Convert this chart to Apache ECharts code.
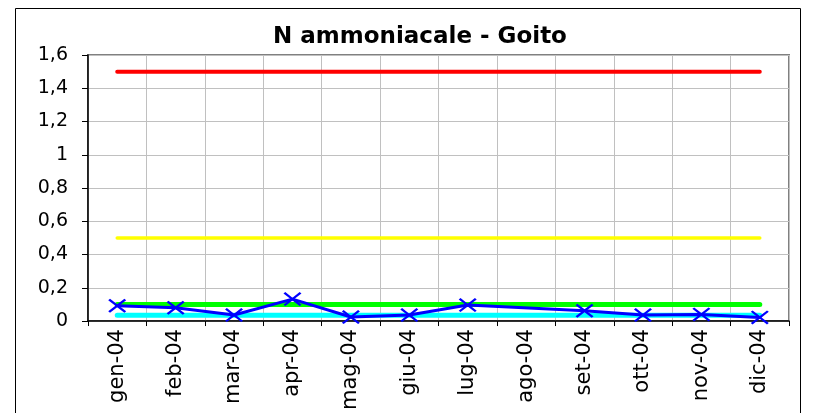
<!DOCTYPE html>
<html>
<head>
<meta charset="utf-8">
<script src="https://cdn.jsdelivr.net/npm/echarts@6/dist/echarts.min.js"></script>
<style>
	html, body { margin: 0; padding: 0; background: #fff; }
	#chart { width: 813px; height: 413px; }
</style>
</head>
<body>
<div id="chart"></div>
<script>
	const months = ['gen-04', 'feb-04', 'mar-04', 'apr-04', 'mag-04', 'giu-04', 'lug-04', 'ago-04', 'set-04', 'ott-04', 'nov-04', 'dic-04'];
	const measured = [0.092, 0.08, 0.036, 0.132, 0.024, 0.036, 0.096, null, 0.062, 0.036, 0.04, 0.022];
	const limitRed = [1.5, 1.5, 1.5, 1.5, 1.5, 1.5, 1.5, 1.5, 1.5, 1.5, 1.5, 1.5];
	const limitYellow = [0.5, 0.5, 0.5, 0.5, 0.5, 0.5, 0.5, 0.5, 0.5, 0.5, 0.5, 0.5];
	const limitGreen = [0.1, 0.1, 0.1, 0.1, 0.1, 0.1, 0.1, 0.1, 0.1, 0.1, 0.1, 0.1];
	const limitCyan = [0.035, 0.035, 0.035, 0.035, 0.035, 0.035, 0.035, 0.035, 0.035, 0.035, 0.035, 0.035];

	// excel text is rendered wide, DejaVu gets closer than Arial
	const font = '"DejaVu Sans", Arial, sans-serif';
	const cross = 'path://M0,1.4L1.4,0L7,5.6L12.6,0L14,1.4L8.4,7L14,12.6L12.6,14L7,8.4L1.4,14L0,12.6L5.6,7Z';

	function flatLine(name, data, color, width) {
		return {
			name: name,
			type: 'line',
			data: data,
			symbol: 'none',
			lineStyle: { color: color, width: width, cap: 'round' },
			silent: true
		};
	}

	const chart = echarts.init(document.getElementById('chart'));
	chart.setOption({
		animation: false,
		backgroundColor: '#fff',
		title: {
			text: 'N ammoniacale - Goito',
			left: 415,
			top: 21,
			textAlign: 'center',
			textStyle: { fontFamily: font, fontSize: 23, fontWeight: 'bold', color: '#000' }
		},
		graphic: [{
			type: 'rect',
			shape: { x: 15.5, y: 8.5, width: 785, height: 420 },
			style: { fill: 'none', stroke: '#000', lineWidth: 1 },
			silent: true
		}],
		grid: {
			left: 88,
			right: 24,
			top: 55,
			bottom: 90,
			show: true,
			borderColor: '#808080',
			borderWidth: 2
		},
		xAxis: {
			type: 'category',
			data: months,
			boundaryGap: true,
			axisLine: { lineStyle: { color: '#000', width: 1.5 } },
			axisTick: { show: true, length: 5, lineStyle: { color: '#000' } },
			splitLine: { show: true, lineStyle: { color: '#c0c0c0', width: 1 } },
			axisLabel: { rotate: 90, fontFamily: font, fontSize: 21, color: '#000', margin: 8, interval: 0 }
		},
		yAxis: {
			type: 'value',
			min: 0,
			max: 1.6,
			interval: 0.2,
			axisLine: { show: true, lineStyle: { color: '#000', width: 1.5 } },
			axisTick: { show: true, length: 6, lineStyle: { color: '#000' } },
			splitLine: { show: true, lineStyle: { color: '#c0c0c0', width: 1 } },
			axisLabel: {
				fontFamily: font,
				fontSize: 19,
				color: '#000',
				margin: 20,
				formatter: v => String(+v.toFixed(1)).replace('.', ',')
			}
		},
		series: [
			flatLine('Limite 1,5', limitRed, '#ff0000', 4),
			flatLine('Limite 0,5', limitYellow, '#ffff00', 3.5),
			flatLine('Limite 0,1', limitGreen, '#00ff00', 5),
			flatLine('Limite 0,04', limitCyan, '#00ffff', 5),
			{
				name: 'N ammoniacale',
				type: 'line',
				data: measured,
				connectNulls: true,
				symbol: cross,
				symbolSize: [18, 14],
				itemStyle: { color: '#0000ff' },
				lineStyle: { color: '#0000ff', width: 3 },
				z: 5
			}
		]
	});
</script>
</body>
</html>
